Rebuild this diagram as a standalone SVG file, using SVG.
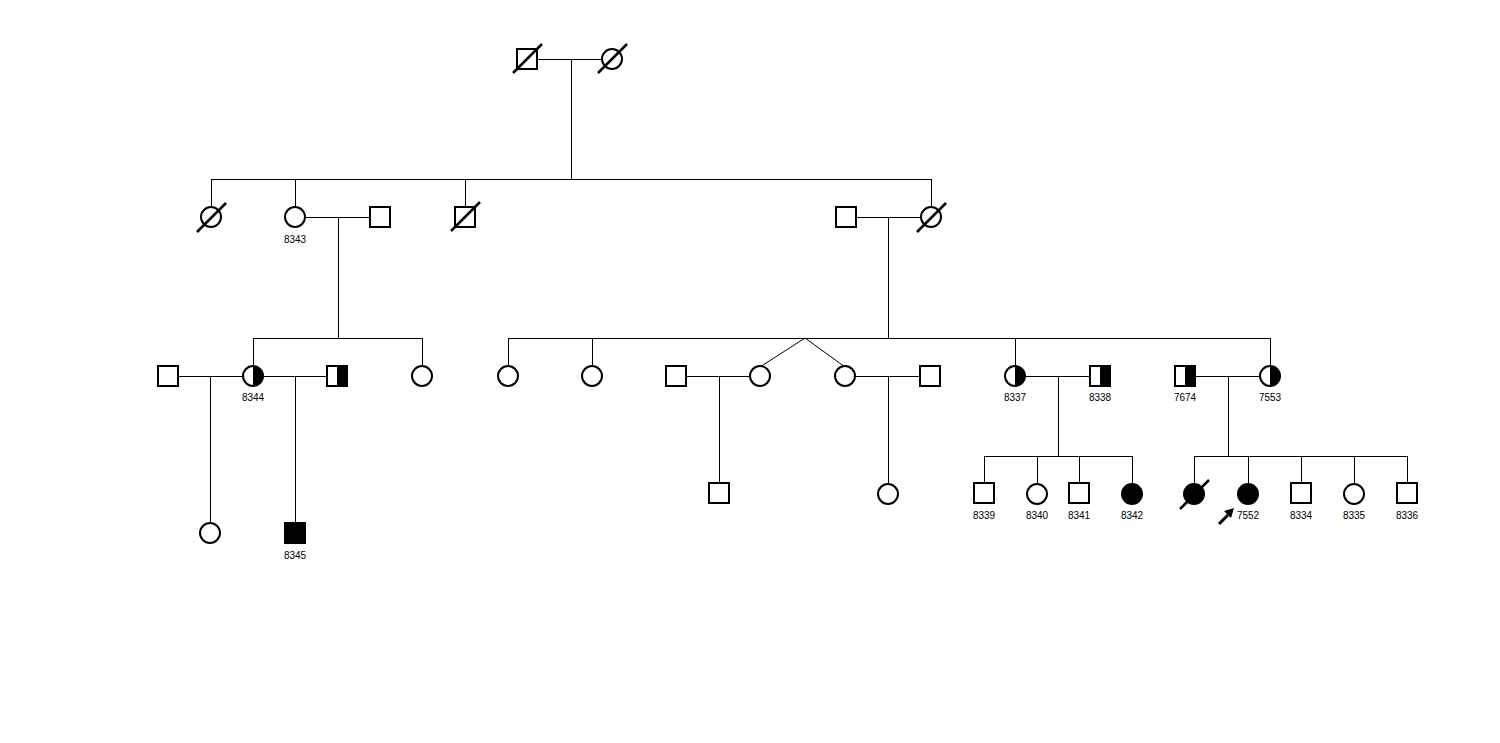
<svg xmlns="http://www.w3.org/2000/svg" width="1500" height="743" viewBox="0 0 1500 743">
<style>
.l{stroke:#000;stroke-width:1;fill:none;shape-rendering:crispEdges}
.s{stroke:#000;stroke-width:2;fill:#fff}
.f{stroke:#000;stroke-width:2;fill:#000}
.d{stroke:#000;stroke-width:2.5;fill:none}
.h{fill:#000;stroke:none}
text{font-family:"Liberation Sans",Arial,sans-serif;font-size:10px;fill:#000;text-anchor:middle}
</style>
<rect width="1500" height="743" fill="#fff"/>
<g id="connectors" class="l">
<path d="M537,59H602M571,59V179M211,179H931M211,179V207M295,179V207M465,179V207M931,179V207"/>
<path d="M305,217H370M338,217V338M253,338H422M253,338V367M422,338V367"/>
<path d="M856,217H921M888,217V338M508,338H1270M508,338V367M592,338V367M1015,338V367M1270,338V367"/>
<path d="M805,338L760,367M805,338L845,367" style="shape-rendering:auto"/>
<path d="M178,376H243M210,376V523M263,376H327M295,376V523"/>
<path d="M686,376H750M719,376V483M855,376H920M888,376V484"/>
<path d="M1025,376H1090M1058,376V456M984,456H1132M984,456V483M1037,456V484M1079,456V483M1132,456V484"/>
<path d="M1195,376H1260M1228,376V456M1194,456H1407M1194,456V484M1248,456V484M1301,456V483M1354,456V484M1407,456V483"/>
</g>
<g id="I1"><rect class="s" x="517" y="49" width="20" height="20"/><line class="d" x1="513" y1="73" x2="542" y2="44"/></g>
<g id="I2"><circle class="s" cx="612" cy="59" r="10"/><line class="d" x1="598" y1="73" x2="627" y2="44"/></g>
<g id="II1"><circle class="s" cx="211" cy="217" r="10"/><line class="d" x1="197" y1="232" x2="226" y2="203"/></g>
<g id="II2"><circle class="s" cx="295" cy="217" r="10"/><text x="295" y="243">8343</text></g>
<g id="II3"><rect class="s" x="370" y="207" width="20" height="20"/></g>
<g id="II4"><rect class="s" x="455" y="207" width="20" height="20"/><line class="d" x1="451" y1="231" x2="480" y2="202"/></g>
<g id="II5"><rect class="s" x="836" y="207" width="20" height="20"/></g>
<g id="II6"><circle class="s" cx="931" cy="217" r="10"/><line class="d" x1="917" y1="232" x2="946" y2="203"/></g>
<g id="III1"><rect class="s" x="158" y="366" width="20" height="20"/></g>
<g id="III2"><circle class="s" cx="253" cy="376" r="10"/><path class="h" d="M253,366A10,10 0 0 1 253,386Z"/><text x="253" y="401">8344</text></g>
<g id="III3"><rect class="s" x="327" y="366" width="20" height="20"/><rect class="h" x="337" y="366" width="10" height="20"/></g>
<g id="III4"><circle class="s" cx="422" cy="376" r="10"/></g>
<g id="III5"><circle class="s" cx="508" cy="376" r="10"/></g>
<g id="III6"><circle class="s" cx="592" cy="376" r="10"/></g>
<g id="III7"><rect class="s" x="666" y="366" width="20" height="20"/></g>
<g id="III8"><circle class="s" cx="760" cy="376" r="10"/></g>
<g id="III9"><circle class="s" cx="845" cy="376" r="10"/></g>
<g id="III10"><rect class="s" x="920" y="366" width="20" height="20"/></g>
<g id="III11"><circle class="s" cx="1015" cy="376" r="10"/><path class="h" d="M1015,366A10,10 0 0 1 1015,386Z"/><text x="1015" y="401">8337</text></g>
<g id="III12"><rect class="s" x="1090" y="366" width="20" height="20"/><rect class="h" x="1100" y="366" width="10" height="20"/><text x="1100" y="401">8338</text></g>
<g id="III13"><rect class="s" x="1175" y="366" width="20" height="20"/><rect class="h" x="1185" y="366" width="10" height="20"/><text x="1185" y="401">7674</text></g>
<g id="III14"><circle class="s" cx="1270" cy="376" r="10"/><path class="h" d="M1270,366A10,10 0 0 1 1270,386Z"/><text x="1270" y="401">7553</text></g>
<g id="IV1"><circle class="s" cx="210" cy="533" r="10"/></g>
<g id="IV2"><rect class="f" x="285" y="523" width="20" height="20"/><text x="295" y="559">8345</text></g>
<g id="IV3"><rect class="s" x="709" y="483" width="20" height="20"/></g>
<g id="IV4"><circle class="s" cx="888" cy="494" r="10"/></g>
<g id="IV5"><rect class="s" x="974" y="483" width="20" height="20"/><text x="984" y="519">8339</text></g>
<g id="IV6"><circle class="s" cx="1037" cy="494" r="10"/><text x="1037" y="519">8340</text></g>
<g id="IV7"><rect class="s" x="1069" y="483" width="20" height="20"/><text x="1079" y="519">8341</text></g>
<g id="IV8"><circle class="f" cx="1132" cy="494" r="10"/><text x="1132" y="519">8342</text></g>
<g id="IV9"><circle class="f" cx="1194" cy="494" r="10"/><line class="d" x1="1180" y1="509" x2="1209" y2="480"/></g>
<g id="IV10"><circle class="f" cx="1248" cy="494" r="10"/><text x="1248" y="519">7552</text><line x1="1219" y1="524" x2="1228" y2="515" stroke="#000" stroke-width="3"/><polygon points="1234,508 1231,518 1224,511" fill="#000"/></g>
<g id="IV11"><rect class="s" x="1291" y="483" width="20" height="20"/><text x="1301" y="519">8334</text></g>
<g id="IV12"><circle class="s" cx="1354" cy="494" r="10"/><text x="1354" y="519">8335</text></g>
<g id="IV13"><rect class="s" x="1397" y="483" width="20" height="20"/><text x="1407" y="519">8336</text></g>
</svg>
